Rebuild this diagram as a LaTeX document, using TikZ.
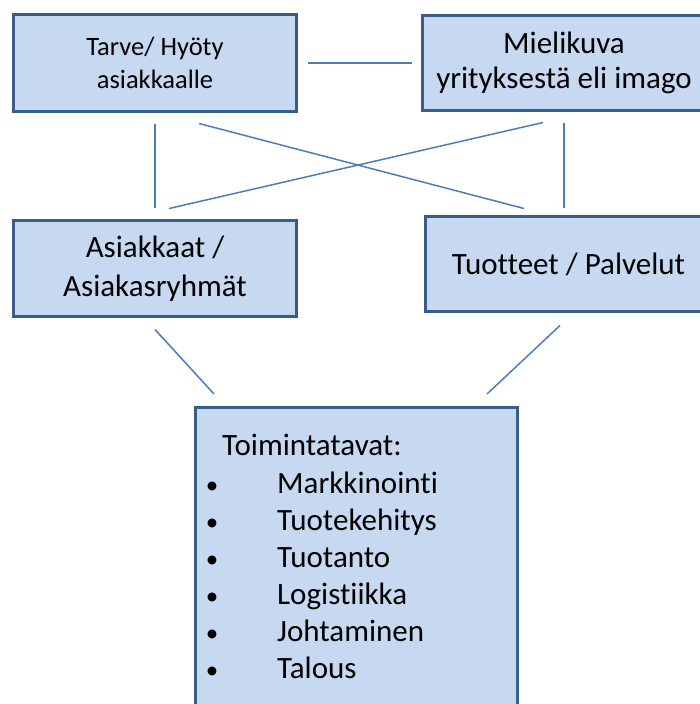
\documentclass[tikz,border=0pt]{standalone}
\usepackage{fontspec}
\setmainfont[Ligatures={NoCommon}]{Carlito}
\definecolor{boxfill}{HTML}{C6D9F1}
\definecolor{boxline}{HTML}{385D8A}
\definecolor{conn}{HTML}{4A7EBB}
\begin{document}
\begin{tikzpicture}[x=1pt,y=-1pt,
  box/.style={draw=boxline,fill=boxfill,line width=3pt,rectangle,inner sep=0pt,align=center,text=black},
  conline/.style={draw=conn,line width=1.5pt},
  big/.style={font=\fontsize{31}{36}\selectfont},
  lst/.style={font=\fontsize{31}{37}\selectfont,anchor=base west,inner sep=0pt}]
\useasboundingbox (0,0) rectangle (700,704);
\clip (0,0) rectangle (700,704);
\node[box,minimum width=283pt,minimum height=97pt,font=\fontsize{26.5}{33}\selectfont] (b1) at (155,63) {Tarve/ Hyöty\\asiakkaalle};
\node[box,minimum width=283pt,minimum height=95pt,font=\fontsize{31}{35}\selectfont] (b2) at (564,63) {Mielikuva\\yrityksestä eli imago};
\node[box,minimum width=283pt,minimum height=96pt,font=\fontsize{31}{39}\selectfont] (b3) at (155,268.5) {Asiakkaat /\\Asiakasryhmät};
\node[box,minimum width=286pt,minimum height=95pt,big] (b4) at (568.5,264) {Tuotteet / Palvelut};
\node[box,minimum width=322pt,minimum height=360pt,anchor=north] (b5) at (356.5,405.5) {};
\node[lst] (t0) at (222,455) {Toimintatavat:};
\foreach \i/\t/\y in {1/Markkinointi/493,2/Tuotekehitys/530,3/Tuotanto/567,4/Logistiikka/604,5/Johtaminen/641,6/Talous/678}{
  \node[lst,anchor=base,font=\fontsize{25}{30}\selectfont] (bu\i) at (212,\y) {\textbullet};
  \node[lst] (it\i) at (277,\y) {\t};
}
\draw[conline] ([xshift=10pt]b1.east) -- ([xshift=-9pt]b2.west);
\draw[conline] ([yshift=-10.5pt]b1.south) -- ([yshift=11.5pt]b3.north);
\draw[conline] ([xshift=44pt,yshift=-10.5pt]b1.south) -- ([xshift=-44.5pt,yshift=6.5pt]b4.north);
\draw[conline] ([xshift=-21pt,yshift=-10.5pt]b2.south) -- ([xshift=14pt,yshift=10.5pt]b3.north);
\draw[conline] ([yshift=-10.5pt]b2.south) -- ([xshift=-4.5pt,yshift=7.5pt]b4.north);
\draw[conline] ([yshift=-11.5pt]b3.south) -- ([xshift=-142.5pt,yshift=11.5pt]b5.north);
\draw[conline] ([xshift=-8.5pt,yshift=-12.5pt]b4.south) -- ([xshift=130.5pt,yshift=11.5pt]b5.north);
\end{tikzpicture}
\end{document}
